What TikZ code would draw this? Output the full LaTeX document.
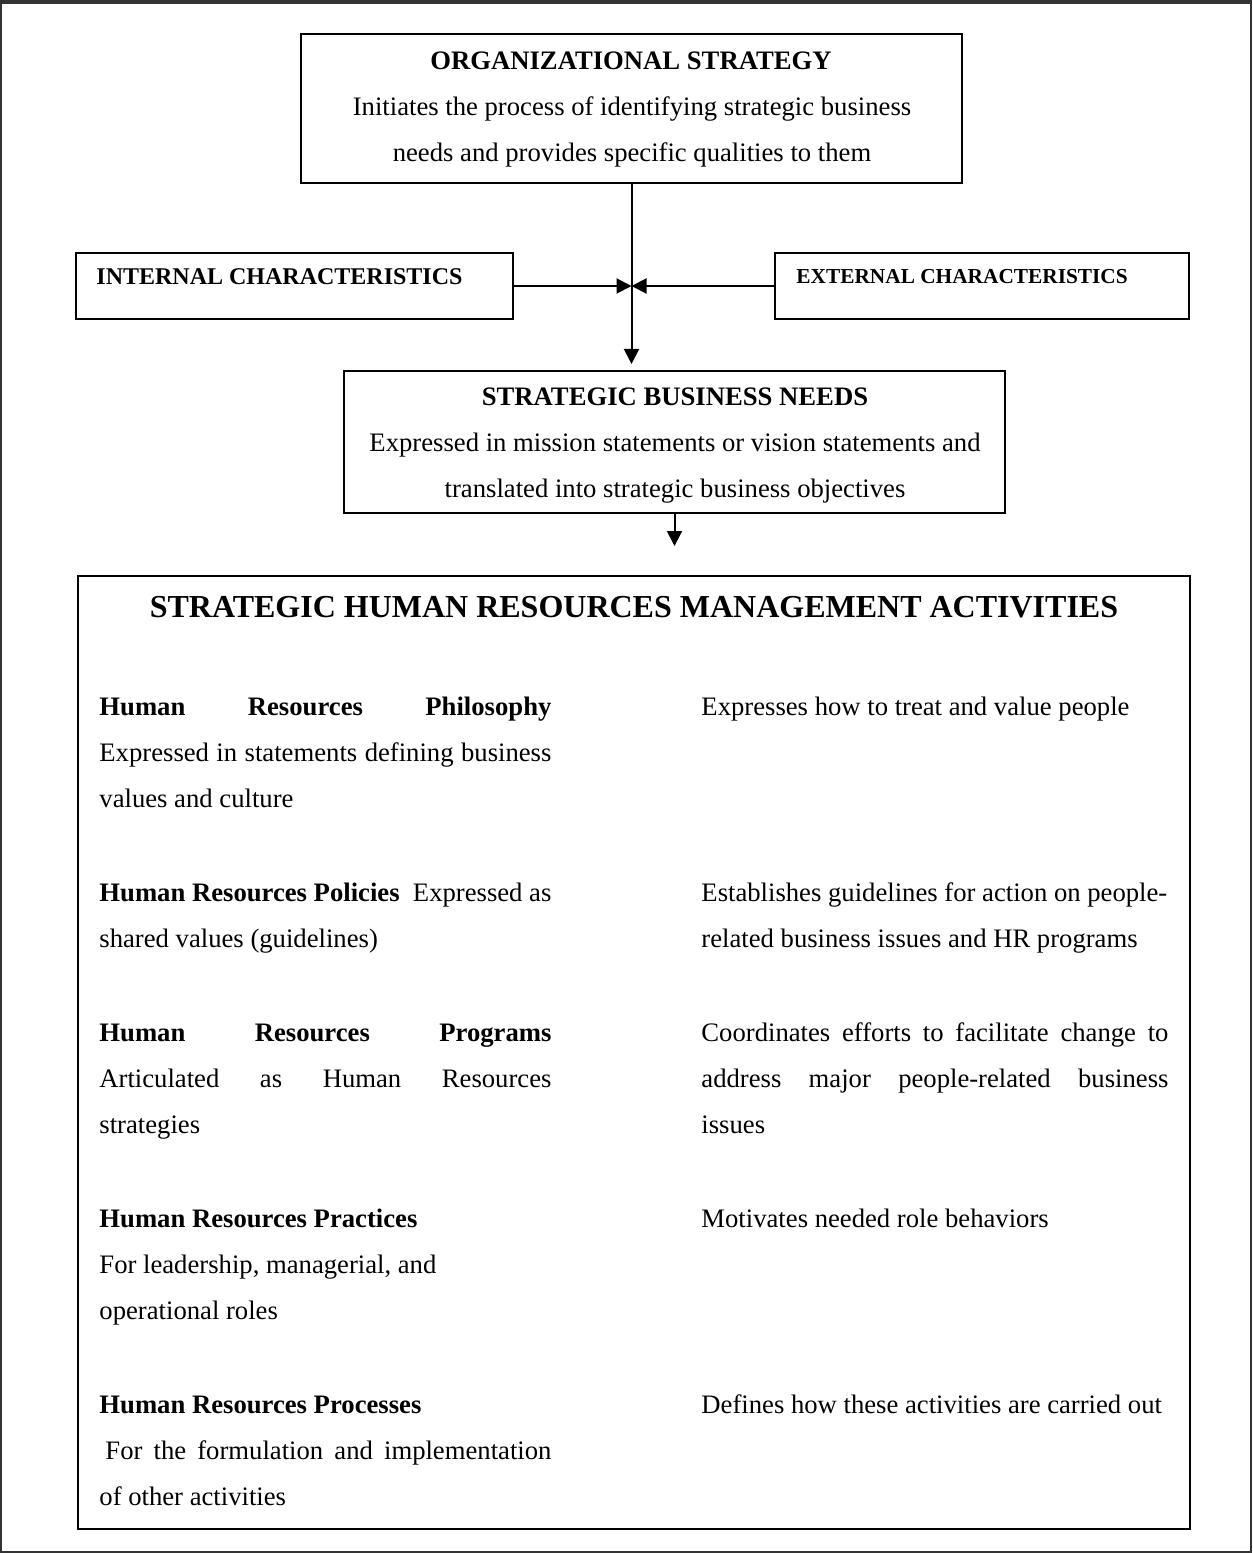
\documentclass[tikz,border=0pt]{standalone}
\usepackage{fontspec}
\setmainfont{Liberation Serif}
\usetikzlibrary{arrows.meta,fit}
% a line whose interword spaces are stretched to a given width
\newcommand\justline[2]{\makebox[#1][s]{#2}}
\begin{document}
\begin{tikzpicture}[x=0.45pt,y=-0.45pt,
  box/.style={draw, line width=0.9pt, inner sep=0pt},
  txt/.style={inner sep=0pt, font=\fontsize{12}{14}\selectfont},
  lft/.style={txt, anchor=base west},
  ctr/.style={txt, anchor=base},
  conn/.style={line width=0.9pt, -{Triangle[length=6.75pt,width=6.75pt]}},
  frame/.style={draw=black!80, line width=0.9pt}]

\useasboundingbox (0,0) rectangle (1252,1553);
% page frame
\draw[frame] (1,2) rectangle (1251,1552);
\draw[draw=black!80, line width=1.8pt] (0,2) -- (1252,2);

% boxes
\node[box, fit={(301,34) (962,183)}] (org) {};
\node[box, fit={(76,253) (513,319)}] (intc) {};
\node[box, fit={(775,253) (1189,319)}] (extc) {};
\node[box, fit={(344,371) (1005,513)}] (sbn) {};
\node[box, fit={(78,576) (1190,1529)}] (shrm) {};

% organizational strategy
\node[ctr, font=\fontsize{12}{14}\selectfont\bfseries] (orgt) at (631,70) {ORGANIZATIONAL STRATEGY};
\node[ctr] (orga) at (632,116) {Initiates the process of identifying strategic business};
\node[ctr] (orgb) at (632,162) {needs and provides specific qualities to them};

% characteristics
\node[lft, font=\fontsize{10.8}{13}\selectfont\bfseries] (intt) at (96,285) {INTERNAL CHARACTERISTICS};
\node[lft, font=\fontsize{9.6}{12}\selectfont\bfseries] (extt) at (796,284) {EXTERNAL CHARACTERISTICS};

% strategic business needs
\node[ctr, font=\fontsize{12}{14}\selectfont\bfseries] (sbnt) at (675,406) {STRATEGIC BUSINESS NEEDS};
\node[ctr] (sbna) at (675,452) {Expressed in mission statements or vision statements and};
\node[ctr] (sbnb) at (675,497) {translated into strategic business objectives};

% connectors
\coordinate (j) at (org.south |- intc.east);
\draw[conn, shorten >=2.7pt] (org.south) -- (org.south |- sbn.north);
\draw[conn] (intc.east) -- (j);
\draw[conn] (extc.west) -- (j);
\path (sbn.south) ++(0,32) coordinate (sbnout);
\draw[conn] (sbn.south) -- (sbnout);

% activities
\node[ctr, font=\fontsize{14.4}{17}\selectfont\bfseries] (shrmt) at (634,617) {STRATEGIC HUMAN RESOURCES MANAGEMENT ACTIVITIES};

% left column
\node[lft] (l1a) at (99,715) {\justline{203.4pt}{\bfseries Human Resources Philosophy}};
\node[lft] (l1b) at (99,761) {\justline{203.4pt}{Expressed in statements defining business}};
\node[lft] (l1c) at (99,807) {values and culture};
\node[lft] (l2a) at (99,901) {\justline{203.4pt}{\textbf{Human Resources Policies}\ \ Expressed as}};
\node[lft] (l2b) at (99,947) {shared values (guidelines)};
\node[lft] (l3a) at (99,1041) {\justline{203.4pt}{\bfseries Human Resources Programs}};
\node[lft] (l3b) at (99,1087) {\justline{203.4pt}{Articulated as Human Resources}};
\node[lft] (l3c) at (99,1133) {strategies};
\node[lft, font=\fontsize{12}{14}\selectfont\bfseries] (l4a) at (99,1227) {Human Resources Practices};
\node[lft] (l4b) at (99,1273) {For leadership, managerial, and};
\node[lft] (l4c) at (99,1319) {operational roles};
\node[lft, font=\fontsize{12}{14}\selectfont\bfseries] (l5a) at (99,1413) {Human Resources Processes};
\node[lft] (l5b) at (105,1459) {\justline{200.7pt}{For the formulation and implementation}};
\node[lft] (l5c) at (99,1505) {of other activities};

% right column
\node[lft] (r1a) at (701,715) {Expresses how to treat and value people};
\node[lft] (r2a) at (701,901) {Establishes guidelines for action on people-};
\node[lft] (r2b) at (701,947) {related business issues and HR programs};
\node[lft] (r3a) at (701,1041) {\justline{210.15pt}{Coordinates efforts to facilitate change to}};
\node[lft] (r3b) at (701,1087) {\justline{210.15pt}{address major people-related business}};
\node[lft] (r3c) at (701,1133) {issues};
\node[lft] (r4a) at (701,1227) {Motivates needed role behaviors};
\node[lft] (r5a) at (701,1413) {Defines how these activities are carried out};
\end{tikzpicture}
\end{document}
